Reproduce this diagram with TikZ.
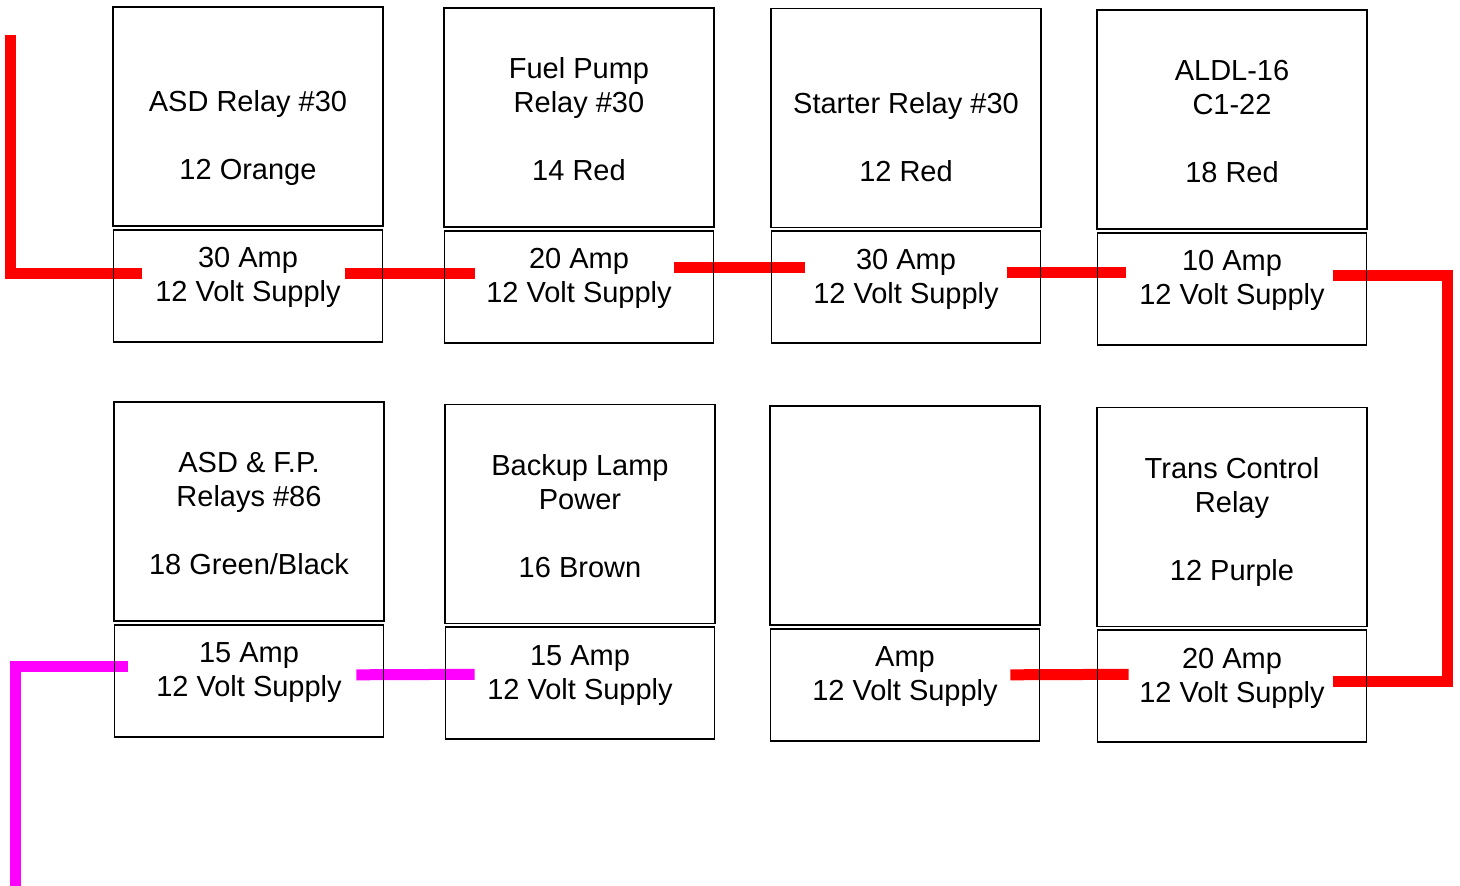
\documentclass[tikz,border=0pt]{standalone}
\usepackage{fontspec}
\setmainfont{Liberation Sans}
\usepackage{xcolor}
\definecolor{wirered}{RGB}{255,0,0}
\definecolor{wirepink}{RGB}{255,0,255}
\usetikzlibrary{positioning,calc,backgrounds}

\begin{document}
\begin{tikzpicture}[x=1pt,y=-1pt,
  relay/.style={draw,line width=1.8pt,minimum width=270pt,minimum height=219pt,inner sep=0pt},
  fuse/.style={draw,line width=1.8pt,minimum width=269pt,minimum height=112pt,inner sep=0pt},
  rtext/.style={anchor=south,align=center,inner sep=0pt,font=\fontsize{29}{34}\selectfont,execute at end node=\strut},
  ftext/.style={anchor=north,align=center,inner sep=0pt,font=\fontsize{29}{34}\selectfont,execute at begin node=\strut},
  wire/.style={line width=11pt,line join=miter,wirered},
  pwire/.style={wire,wirepink}]
  \useasboundingbox (0,0) rectangle (1460,886);
  % Relay boxes
  \node[relay] (r1) at (248,116.5) {};
  \node[relay] (r2) at (579,117.5) {};
  \node[relay] (r3) at (906,118) {};
  \node[relay] (r4) at (1232,119.5) {};
  \node[relay] (r5) at (249,511.5) {};
  \node[relay] (r6) at (580,514) {};
  \node[relay] (r7) at (905,515.5) {};
  \node[relay] (r8) at (1232,517) {};
  % Fuse boxes
  \foreach \i in {1,...,8}{
    \node[fuse,below=2pt of r\i] (s\i) {};
  }
  % Relay texts
  \node[rtext] (t1) at ($(r1.north)+(0,184)$) {ASD Relay \#30\\[34pt]12 Orange};
  \node[rtext] (t2) at ($(r2.north)+(0,184)$) {Fuel Pump\\Relay \#30\\[34pt]14 Red};
  \node[rtext] (t3) at ($(r3.north)+(0,184)$) {Starter Relay \#30\\[34pt]12 Red};
  \node[rtext] (t4) at ($(r4.north)+(0,184)$) {ALDL-16\\C1-22\\[34pt]18 Red};
  \node[rtext] (t5) at ($(r5.north)+(0,184)$) {ASD \& F.P.\\Relays \#86\\[34pt]18 Green/Black};
  \node[rtext] (t6) at ($(r6.north)+(0,184)$) {Backup Lamp\\Power\\[34pt]16 Brown};
  \node[rtext] (t8) at ($(r8.north)+(0,184)$) {Trans Control\\Relay\\[34pt]12 Purple};
  % Fuse texts
  \foreach \i/\a in {1/30,2/20,3/30,4/10,5/15,6/15,8/20}{
    \node[ftext] (f\i) at ($(s\i.north)+(0,18.5)$) {\a{} Amp\\12 Volt Supply};
  }
  \node[ftext] (f7) at ($(s7.north)+(0,18.5)$) {Amp\\12 Volt Supply};
  \begin{scope}[on background layer]
  % Red feed
  \coordinate (feedtop) at (10.5,35);
  \draw[wire] (feedtop) |- ($(s1.west)+(29,-12.5)$);
  \draw[wire] ($(s1.east)+(-38,-12)$) -- ($(s2.west)+(31,-13)$);
  \draw[wire] ($(s2.east)+(-40,-19)$) -- ($(s3.west)+(34,-19.5)$);
  \draw[wire] ($(s3.east)+(-34,-14.5)$) -- ($(s4.west)+(29,-16)$);
  \draw[wire] ($(s4.east)+(-34,-13)$) -| ($(s8.east)+(80,-5)$) -- ($(s8.east)+(-34,-5)$);
  \draw[wire] ($(s7.east)+(-30,-10)$) -- ($(s8.west)+(32,-12)$);
  % Pink feed
  \coordinate (feedbot) at (15,886);
  \draw[pwire] ($(s6.west)+(30,-9)$) -- ($(s5.east)+(-28,-6)$);
  \draw[pwire] ($(s5.west)+(14,-14)$) -| (feedbot);
  \end{scope}
\end{tikzpicture}
\end{document}
